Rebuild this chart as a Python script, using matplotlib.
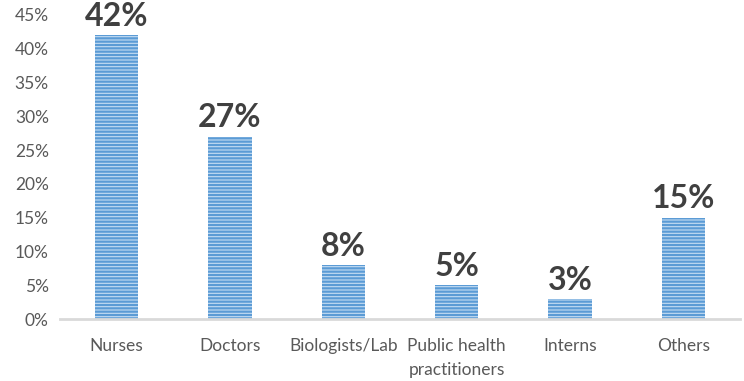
import matplotlib
matplotlib.use("Agg")
import matplotlib.pyplot as plt
from matplotlib.ticker import FuncFormatter

categories = ["Nurses", "Doctors", "Biologists/Lab", "Public health\npractitioners", "Interns", "Others"]
values = [42, 27, 8, 5, 3, 15]
labels = ["42%", "27%", "8%", "5%", "3%", "15%"]

plt.rcParams['font.family'] = ['Lato', 'DejaVu Sans']
plt.rcParams['hatch.color'] = '#5B9BD5'
plt.rcParams['hatch.linewidth'] = 1.6

fig = plt.figure(figsize=(7.44, 3.81), dpi=100)
ax = fig.add_axes([0.0806, 0.1627, 0.914, 0.798])

x = list(range(len(categories)))
bars = ax.bar(x, values, width=0.38, color='#C5DDF3', linewidth=0, hatch='-----')
for xi, v, lab in zip(x, values, labels):
    ax.annotate(lab, (xi, v), xytext=(0, 3), textcoords='offset points', ha='center', va='bottom',
                fontsize=23, fontweight='bold', color='#404040')

ax.set_xlim(-0.5, 5.5)
ax.set_ylim(0, 45)
ax.set_yticks(range(0, 46, 5))
ax.yaxis.set_major_formatter(FuncFormatter(lambda v, p: f"{int(v)}%"))
ax.set_xticks(x)
ax.set_xticklabels(categories, linespacing=1.6)
for s in ['top', 'right', 'left']:
    ax.spines[s].set_visible(False)
ax.spines['bottom'].set_color('#D9D9D9')
ax.spines['bottom'].set_linewidth(2)
ax.tick_params(axis='both', length=0, labelsize=12.5, colors='#595959')
ax.tick_params(axis='x', pad=14)
ax.tick_params(axis='y', pad=8)

fig.savefig("out.png", dpi=100)
